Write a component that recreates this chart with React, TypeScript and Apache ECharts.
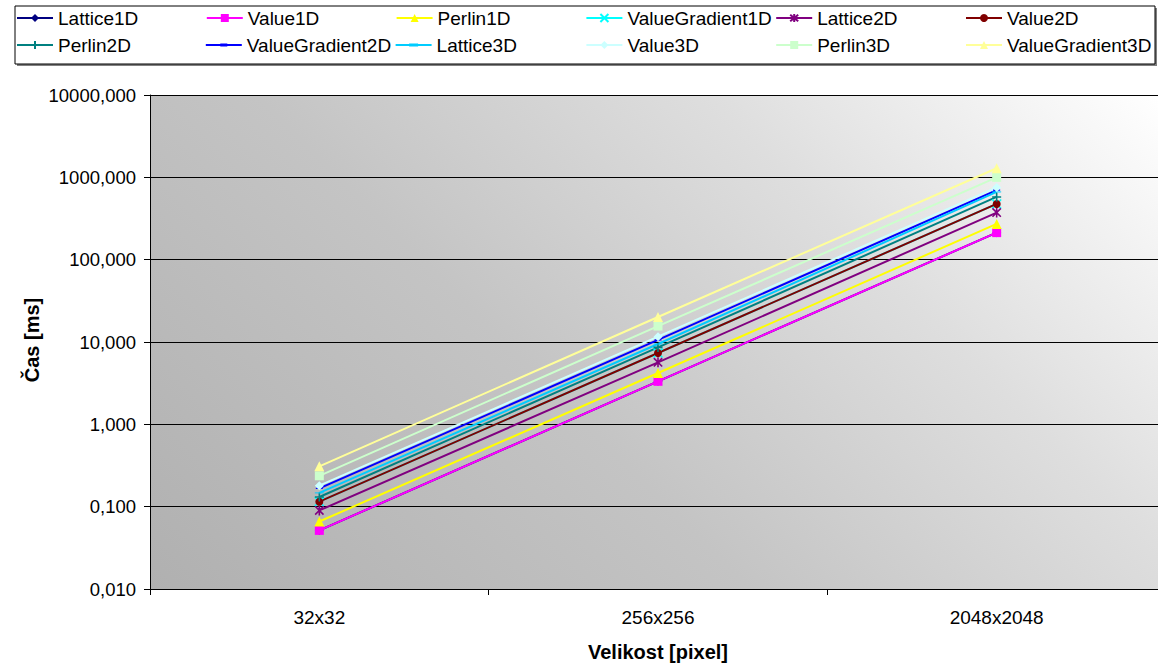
import { useEffect, useRef } from "react";
import * as echarts from "echarts";

const categories = ["32x32", "256x256", "2048x2048"];
const seriesNames = [
  "Lattice1D", "Value1D", "Perlin1D", "ValueGradient1D", "Lattice2D", "Value2D",
  "Perlin2D", "ValueGradient2D", "Lattice3D", "Value3D", "Perlin3D", "ValueGradient3D",
];
const lattice1D = [0.0515, 3.33, 213];
const value1D = [0.0515, 3.33, 213];
const perlin1D = [0.066, 4.2, 272];
const valueGradient1D = [0.115, 7.35, 475];
const lattice2D = [0.09, 5.66, 373];
const value2D = [0.115, 7.35, 475];
const perlin2D = [0.131, 8.6, 578];
const valueGradient2D = [0.167, 10.6, 700];
const lattice3D = [0.147, 9.45, 665];
const value3D = [0.18, 11.6, 754];
const perlin3D = [0.237, 15.6, 998];
const valueGradient3D = [0.309, 20.1, 1290];
const seriesValues = [
  lattice1D, value1D, perlin1D, valueGradient1D, lattice2D, value2D,
  perlin2D, valueGradient2D, lattice3D, value3D, perlin3D, valueGradient3D,
];

const colors = [
  "#000080", "#FF00FF", "#FFFF00", "#00FFFF", "#800080", "#800000",
  "#008080", "#0000FF", "#00CCFF", "#CCFFFF", "#CCFFCC", "#FFFF99",
];
const X_PATH = "path://M0,0L10,10M0,10L10,0";
const STAR_PATH = "path://M0,0L10,10M0,10L10,0M5,-1L5,11";
const PLUS_PATH = "path://M5,0L5,10M0,5L10,5";
const SHORT_DASH = "path://M0,0L7,0L7,3L0,3Z";
const LONG_DASH = "path://M0,0L9,0L9,3L0,3Z";
const symbols: any[] = [
  ["diamond", 9], ["rect", 9], ["triangle", 10], [X_PATH, 9], [STAR_PATH, 10], ["circle", 8],
  [PLUS_PATH, 9], [SHORT_DASH, [7, 3]], [LONG_DASH, [9, 3]], ["diamond", 9], ["rect", 9], ["triangle", 10],
];
const strokeSymbols = [3, 4, 6];
const BOUNDS = "M0,0L0.01,0L0,0.01Z M36,10L35.99,10L36,9.99Z ";
const legendIcons: Record<number, string> = {
  7: "path://" + BOUNDS + "M0,4L36,4L36,6L0,6Z M14.5,3.5L21.5,3.5L21.5,6.5L14.5,6.5Z",
  8: "path://" + BOUNDS + "M0,4L36,4L36,6L0,6Z M13.5,3.5L22.5,3.5L22.5,6.5L13.5,6.5Z",
};

const FONT = "'Liberation Sans', Arial, sans-serif";

export default function App() {
  const ref = useRef<HTMLDivElement>(null);
  useEffect(() => {
    const chart = echarts.init(ref.current!, undefined, { renderer: "svg" });
    const series = seriesNames.map((name, i) => {
      const stroke = strokeSymbols.includes(i);
      return {
        name,
        type: "line",
        data: seriesValues[i],
        symbol: symbols[i][0],
        symbolSize: symbols[i][1],
        symbolKeepAspect: true,
        showSymbol: true,
        lineStyle: { color: colors[i], width: 2 },
        itemStyle: stroke
          ? { color: colors[i], borderColor: colors[i], borderWidth: 1.6 }
          : { color: colors[i], borderWidth: 0 },
        emphasis: { disabled: true },
      };
    });
    const legends = seriesNames.map((name, i) => {
      const lg: any = {
        data: [name],
        left: 16 + (i % 6) * 189.8,
        top: i < 6 ? 8 : 35,
        padding: 0,
        itemWidth: 36,
        itemHeight: 10,
        itemGap: 0,
        selectedMode: false,
        textStyle: { fontFamily: FONT, fontSize: 19, color: "#000", lineHeight: 20 },
      };
      if (legendIcons[i]) lg.icon = legendIcons[i];
      return lg;
    });
    chart.setOption({
      animation: false,
      textStyle: { fontFamily: FONT },
      graphic: [
        { type: "rect", z: -10, shape: { x: 17, y: 8, width: 1140, height: 58 }, style: { fill: "#808080" } },
        { type: "rect", z: -9, shape: { x: 15, y: 6, width: 1140, height: 58 }, style: { fill: "#fff", stroke: "#000", lineWidth: 1 } },
        {
          type: "text", x: 658, y: 652,
          style: { text: "Velikost [pixel]", font: `bold 20px ${FONT}`, fill: "#000", align: "center", verticalAlign: "middle" },
        },
        {
          type: "text", x: 32, y: 340, rotation: Math.PI / 2,
          style: { text: "Čas [ms]", font: `bold 20px ${FONT}`, fill: "#000", align: "center", verticalAlign: "middle" },
        },
      ],
      legend: legends,
      grid: {
        left: 150, top: 95, width: 1016, height: 494, show: true, borderWidth: 0,
        backgroundColor: new echarts.graphic.LinearGradient(150, 589, 901, -162, [
          { offset: 0, color: "#b0b0b0" },
          { offset: 0.4, color: "#c4c4c4" },
          { offset: 0.7, color: "#dedede" },
          { offset: 1, color: "#ffffff" },
        ], true),
      },
      xAxis: {
        type: "category",
        data: categories,
        boundaryGap: true,
        axisLine: { lineStyle: { color: "#000", width: 1 } },
        axisTick: { show: true, length: 6, lineStyle: { color: "#000" } },
        axisLabel: { fontFamily: FONT, fontSize: 19, color: "#000", margin: 19 },
      },
      yAxis: {
        type: "log",
        logBase: 10,
        min: 0.01,
        max: 10000,
        splitNumber: 6,
        axisLine: { show: true, lineStyle: { color: "#000", width: 1 } },
        axisTick: { show: true, length: 6, lineStyle: { color: "#000" } },
        splitLine: { show: true, lineStyle: { color: "#000", width: 1 } },
        minorTick: { show: false },
        axisLabel: {
          fontFamily: FONT, fontSize: 18.5, color: "#000", margin: 14,
          formatter: (v: number) => v.toFixed(3).replace(".", ","),
        },
      },
      series,
    });
    return () => chart.dispose();
  }, []);
  return (
    <div
      style={{ position: "fixed", left: 0, top: 0, width: 1158, height: 664, overflow: "hidden", background: "#fff" }}
    >
      <div ref={ref} style={{ width: 1180, height: 664 }} />
    </div>
  );
}
